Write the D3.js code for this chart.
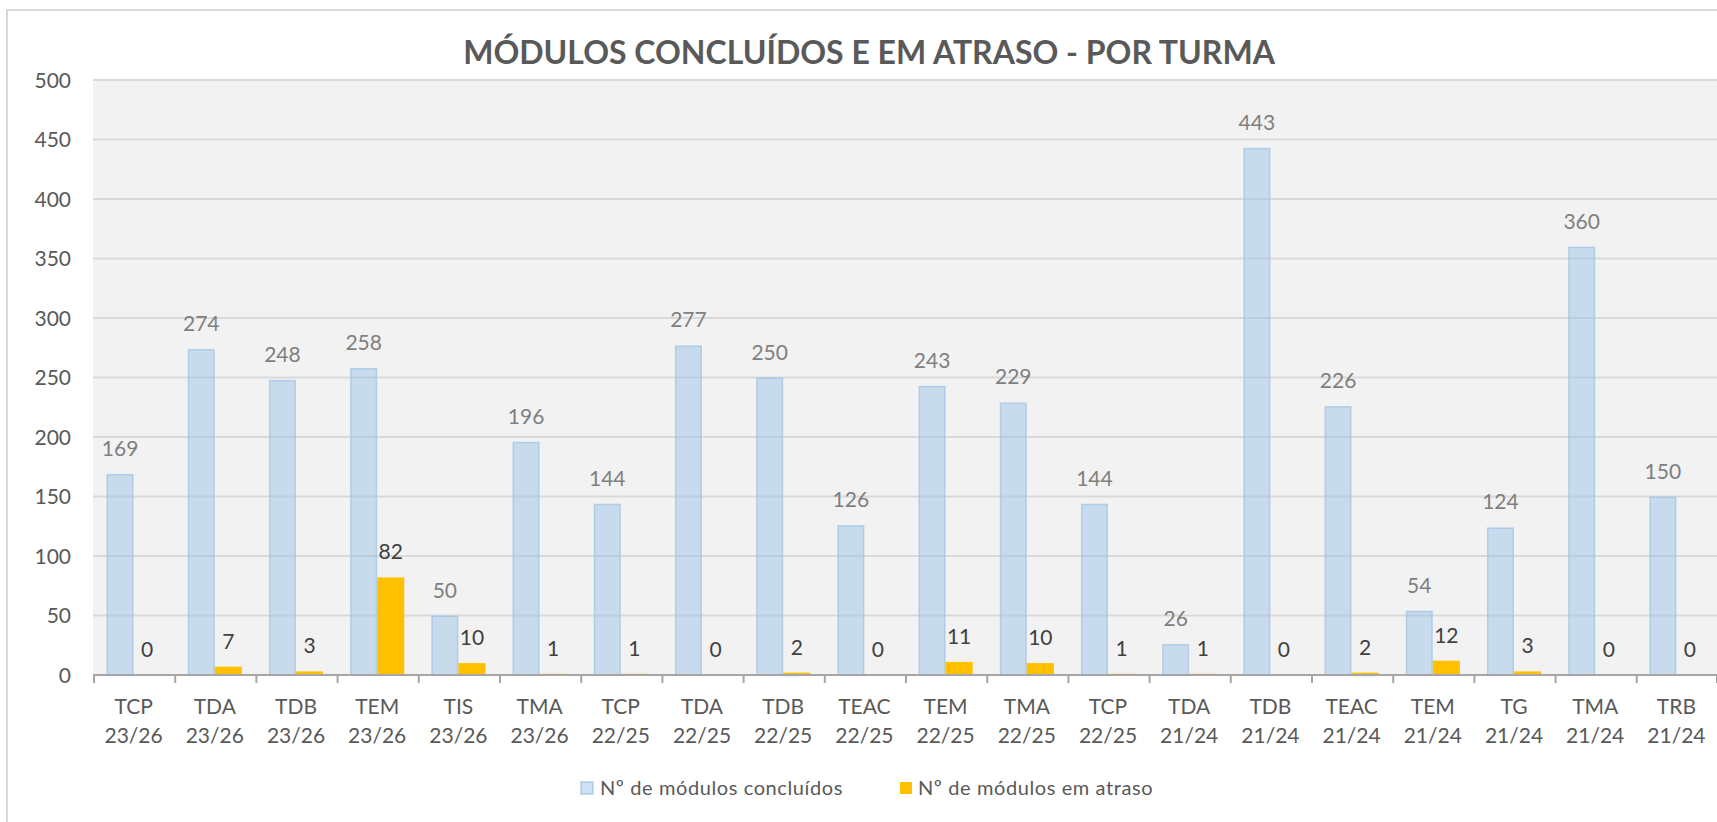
<!DOCTYPE html>
<html>
<head>
<meta charset="utf-8">
<script src="https://cdn.jsdelivr.net/npm/d3@7"></script>
<style>
  html, body { margin: 0; padding: 0; background: #fff; }
  svg { display: block; }
</style>
</head>
<body>
<svg id="chart"></svg>
<script>
// Módulos concluídos e em atraso, por turma
const turmas = [
  "TCP 23/26", "TDA 23/26", "TDB 23/26", "TEM 23/26", "TIS 23/26", "TMA 23/26",
  "TCP 22/25", "TDA 22/25", "TDB 22/25", "TEAC 22/25", "TEM 22/25", "TMA 22/25",
  "TCP 22/25 ", "TDA 21/24", "TDB 21/24", "TEAC 21/24", "TEM 21/24", "TG 21/24",
  "TMA 21/24", "TRB 21/24",
];
const concluidos = [169, 274, 248, 258, 50, 196, 144, 277, 250, 126, 243, 229, 144, 26, 443, 226, 54, 124, 360, 150];
const emAtraso = [0, 7, 3, 82, 10, 1, 1, 0, 2, 0, 11, 10, 1, 1, 0, 2, 12, 3, 0, 0];
const seriesNames = ["Nº de módulos concluídos", "Nº de módulos em atraso"];
const yTicks = [0, 50, 100, 150, 200, 250, 300, 350, 400, 450, 500];

const W = 1717, H = 822;
const FONT = "Lato, 'Open Sans', sans-serif";
const C = {
  blue: "#9dc3e6", yellow: "#ffc000", grid: "#d9d9d9", plot: "#f2f2f2",
  axis: "#a6a6a6", text: "#595959", blueLabel: "#7f7f7f", yelLabel: "#404040",
};

const svg = d3.select("#chart").attr("width", W).attr("height", H);

// outer chart border
svg.append("rect")
  .attr("x", 7).attr("y", 10).attr("width", W + 10).attr("height", H + 10)
  .attr("fill", "#fff").attr("stroke", C.grid).attr("stroke-width", 2);

const plot = { left: 93, right: 1717, top: 80, bottom: 675 };

const x = d3.scaleBand().domain(turmas).range([plot.left, plot.right]).padding(0);
const xs = d3.scaleBand().domain(seriesNames).range([0, x.bandwidth()]).paddingInner(0).paddingOuter(0.5);
const y = d3.scaleLinear().domain([0, 500]).range([plot.bottom, plot.top]);

svg.append("rect")
  .attr("x", plot.left).attr("y", plot.top)
  .attr("width", plot.right - plot.left).attr("height", plot.bottom - plot.top)
  .attr("fill", C.plot);

// gridlines
svg.append("g").selectAll("line").data(yTicks.filter((t) => t > 0)).join("line")
  .attr("x1", plot.left).attr("x2", plot.right)
  .attr("y1", (d) => y(d)).attr("y2", (d) => y(d))
  .attr("stroke", C.grid).attr("stroke-width", 2);

// y tick labels
svg.append("g").selectAll("text").data(yTicks).join("text")
  .attr("x", 71).attr("y", (d) => y(d)).attr("dy", "0.36em")
  .attr("text-anchor", "end")
  .attr("font-family", FONT).attr("font-size", 21).attr("fill", C.text)
  .text((d) => d);

const rows = turmas.map((t, i) => ({ t, vals: [concluidos[i], emAtraso[i]] }));

const groups = svg.append("g").selectAll("g").data(rows).join("g")
  .attr("transform", (d) => `translate(${x(d.t)},0)`);

// blue bars (semi-transparent, with border)
groups.append("rect")
  .attr("x", xs(seriesNames[0]) + 0.75).attr("width", xs.bandwidth() - 1.5)
  .attr("y", (d) => y(d.vals[0]) + 0.75)
  .attr("height", (d) => Math.max(0, y(0) - y(d.vals[0]) - 0.75))
  .attr("fill", C.blue).attr("fill-opacity", 0.5)
  .attr("stroke", C.blue).attr("stroke-opacity", 0.7).attr("stroke-width", 1.5);

// yellow bars
groups.append("rect")
  .attr("x", xs(seriesNames[1])).attr("width", xs.bandwidth())
  .attr("y", (d) => y(d.vals[1]))
  .attr("height", (d) => y(0) - y(d.vals[1]))
  .attr("fill", C.yellow);

// data labels
groups.append("text")
  .attr("x", xs(seriesNames[0]) + xs.bandwidth() / 2)
  .attr("y", (d) => y(d.vals[0]) - 18)
  .attr("text-anchor", "middle")
  .attr("font-family", FONT).attr("font-size", 21).attr("fill", C.blueLabel)
  .text((d) => d.vals[0]);
groups.append("text")
  .attr("x", xs(seriesNames[1]) + xs.bandwidth() / 2)
  .attr("y", (d) => y(d.vals[1]) - 18)
  .attr("text-anchor", "middle")
  .attr("font-family", FONT).attr("font-size", 21).attr("fill", C.yelLabel)
  .text((d) => d.vals[1]);

// x axis line + ticks at category boundaries
const ax = svg.append("g");
ax.append("line")
  .attr("x1", plot.left).attr("x2", plot.right)
  .attr("y1", plot.bottom).attr("y2", plot.bottom)
  .attr("stroke", C.axis).attr("stroke-width", 2);
const bounds = turmas.map((t) => x(t)).concat([plot.right - 1]);
ax.selectAll("line.tick").data(bounds).join("line").attr("class", "tick")
  .attr("x1", (d) => d + 1).attr("x2", (d) => d + 1)
  .attr("y1", plot.bottom).attr("y2", plot.bottom + 8)
  .attr("stroke", C.axis).attr("stroke-width", 2);

// category labels on two lines
const lab = ax.selectAll("text.cat").data(turmas).join("text").attr("class", "cat")
  .attr("text-anchor", "middle")
  .attr("font-family", FONT).attr("font-size", 21).attr("fill", C.text);
lab.each(function (d) {
  const parts = d.trim().split(" ");
  const cx = x(d) + x.bandwidth() / 2;
  const t = d3.select(this);
  t.append("tspan").attr("x", cx).attr("y", 714).text(parts[0]);
  t.append("tspan").attr("x", cx).attr("y", 743).text(parts[1]);
});

// title
svg.append("text")
  .attr("x", 869).attr("y", 64)
  .attr("text-anchor", "middle")
  .attr("font-family", FONT).attr("font-weight", 700).attr("font-size", 32)
  .attr("fill", C.text)
  .text("MÓDULOS CONCLUÍDOS E EM ATRASO - POR TURMA");

// legend
const legend = [
  { name: seriesNames[0], x: 581, tx: 600 },
  { name: seriesNames[1], x: 900, tx: 918 },
];
const lg = svg.append("g").selectAll("g").data(legend).join("g");
lg.append("rect")
  .attr("x", (d) => d.x).attr("y", 782).attr("width", 12).attr("height", 12)
  .attr("fill", (d, i) => (i === 0 ? C.blue : C.yellow))
  .attr("fill-opacity", (d, i) => (i === 0 ? 0.5 : 1))
  .attr("stroke", (d, i) => (i === 0 ? C.blue : "none"))
  .attr("stroke-width", 1.2);
lg.append("text")
  .attr("x", (d) => d.tx).attr("y", 795)
  .attr("font-family", FONT).attr("font-size", 20).attr("letter-spacing", 0.6)
  .attr("fill", C.text)
  .text((d) => d.name);
</script>
</body>
</html>
